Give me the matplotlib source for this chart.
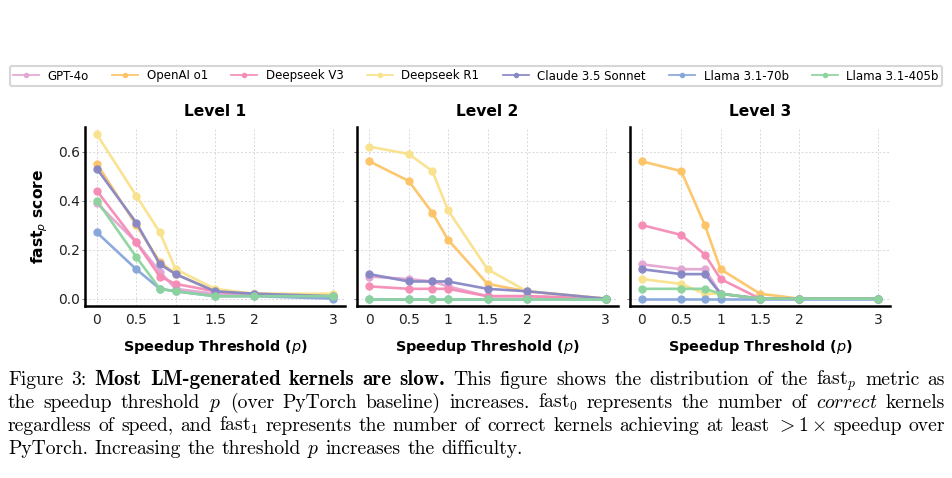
import matplotlib
matplotlib.use("Agg")
import matplotlib.pyplot as plt

# thresholds p
thresholds = [0, 0.5, 0.8, 1, 1.5, 2, 3]
xticks = [0, 0.5, 1, 1.5, 2, 3]
xticklabels = ["0", "0.5", "1", "1.5", "2", "3"]

models = ["GPT-4o", "OpenAI o1", "Deepseek V3", "Deepseek R1",
          "Claude 3.5 Sonnet", "Llama 3.1-70b", "Llama 3.1-405b"]
colors = ["#e3a6d2", "#fdc467", "#f58cb6", "#f9e28c",
          "#8787c6", "#86a6da", "#8cd49e"]

level1 = {
    "GPT-4o":            [0.39, 0.23, 0.11, 0.04, 0.02, 0.02, 0.01],
    "OpenAI o1":         [0.55, 0.30, 0.15, 0.10, 0.03, 0.02, 0.015],
    "Deepseek V3":       [0.44, 0.23, 0.09, 0.06, 0.03, 0.02, 0.01],
    "Deepseek R1":       [0.67, 0.42, 0.27, 0.12, 0.04, 0.02, 0.02],
    "Claude 3.5 Sonnet": [0.53, 0.31, 0.14, 0.10, 0.03, 0.02, 0.01],
    "Llama 3.1-70b":     [0.27, 0.12, 0.04, 0.03, 0.01, 0.01, 0.00],
    "Llama 3.1-405b":    [0.40, 0.17, 0.04, 0.03, 0.01, 0.01, 0.01],
}
level2 = {
    "GPT-4o":            [0.09, 0.08, 0.07, 0.05, 0.01, 0.01, 0.00],
    "OpenAI o1":         [0.56, 0.48, 0.35, 0.24, 0.06, 0.03, 0.00],
    "Deepseek V3":       [0.05, 0.04, 0.04, 0.04, 0.01, 0.01, 0.00],
    "Deepseek R1":       [0.62, 0.59, 0.52, 0.36, 0.12, 0.03, 0.00],
    "Claude 3.5 Sonnet": [0.10, 0.07, 0.07, 0.07, 0.04, 0.03, 0.00],
    "Llama 3.1-70b":     [0.00, 0.00, 0.00, 0.00, 0.00, 0.00, 0.00],
    "Llama 3.1-405b":    [0.00, 0.00, 0.00, 0.00, 0.00, 0.00, 0.00],
}
level3 = {
    "GPT-4o":            [0.14, 0.12, 0.12, 0.02, 0.00, 0.00, 0.00],
    "OpenAI o1":         [0.56, 0.52, 0.30, 0.12, 0.02, 0.00, 0.00],
    "Deepseek V3":       [0.30, 0.26, 0.18, 0.08, 0.00, 0.00, 0.00],
    "Deepseek R1":       [0.08, 0.06, 0.02, 0.02, 0.00, 0.00, 0.00],
    "Claude 3.5 Sonnet": [0.12, 0.10, 0.10, 0.02, 0.00, 0.00, 0.00],
    "Llama 3.1-70b":     [0.00, 0.00, 0.00, 0.00, 0.00, 0.00, 0.00],
    "Llama 3.1-405b":    [0.04, 0.04, 0.04, 0.02, 0.00, 0.00, 0.00],
}
levels = [("Level 1", level1), ("Level 2", level2), ("Level 3", level3)]

W, H = 953, 478
fig = plt.figure(figsize=(W / 100, H / 100), dpi=100)
plt.rcParams["mathtext.fontset"] = "dejavusans"

ax_left = [85, 357.5, 630]
ax_w = 260
ax_top, ax_bot = 127, 306

axes = []
for i, (title, data) in enumerate(levels):
    ax = fig.add_axes([ax_left[i] / W, 1 - ax_bot / H, ax_w / W, (ax_bot - ax_top) / H])
    axes.append(ax)
    for m, c in zip(models, colors):
        ax.plot(thresholds, data[m], color=c, lw=1.9, marker="o", ms=5,
                alpha=0.95, label=m)
    ax.set_xlim(-0.15, 3.15)
    ax.set_ylim(-0.03, 0.70)
    ax.set_xticks(xticks)
    ax.set_xticklabels(xticklabels)
    ax.set_yticks([0, 0.2, 0.4, 0.6])
    ax.grid(True, ls=(0, (2, 2)), color="#d8d8d8", lw=0.7)
    ax.set_axisbelow(True)
    for s in ["top", "right"]:
        ax.spines[s].set_visible(False)
    for s in ["left", "bottom"]:
        ax.spines[s].set_linewidth(1.8)
        ax.spines[s].set_color("black")
    ax.tick_params(axis="both", labelsize=10, length=2, width=0.6,
                   color="#666666", labelcolor="#222222", pad=1.5)
    ax.tick_params(axis="x", length=0, pad=5)
    ax.set_title(title, fontsize=11.2, fontweight="bold", pad=8)
    ax.set_xlabel("Speedup Threshold ($p$)", fontsize=10.4, fontweight="bold", labelpad=8)
    if i == 0:
        ax.set_yticklabels(["0.0", "0.2", "0.4", "0.6"])
        ax.set_ylabel("fast$_p$ score", fontsize=11.2, fontweight="bold", labelpad=6)
    else:
        ax.set_yticklabels([])

handles, labels = axes[0].get_legend_handles_labels()
leg = fig.legend(handles, labels, loc="center", ncol=7,
                 bbox_to_anchor=(476 / W, 1 - 76 / H), fontsize=8.5,
                 handlelength=2.2, columnspacing=2.0, handletextpad=0.7,
                 frameon=True, fancybox=True, borderpad=0.3, markerscale=0.6)
leg.get_frame().set_edgecolor("#cccccc")
leg.get_frame().set_linewidth(1.5)
for lh in leg.get_lines():
    lh.set_linewidth(1.3)

# caption, set like LaTeX text (justified)
FS = 14.1
reg = dict(family="cmr10", fontsize=FS)
bold = dict(family="cmb10", fontsize=FS * 1.07)
plt.rcParams["mathtext.fontset"] = "cm"

caption = [
    ([("Figure 3:", reg), ("Most LM-generated kernels are slow.", bold),
      ("This figure shows the distribution of the fast$_p$ metric as", reg)], True),
    ([("the speedup threshold $p$ (over PyTorch baseline) increases. fast$_0$ represents the number of", reg),
      ("$\\mathit{correct}$", reg), ("kernels", reg)], True),
    ([("regardless of speed, and fast$_1$ represents the number of correct kernels achieving at least $>1\\times$ speedup over", reg)], True),
    ([("PyTorch. Increasing the threshold $p$ increases the difficulty.", reg)], False),
]
baselines = [385, 408, 431, 454]
x0, x1 = 8, 945

renderer = fig.canvas.get_renderer()
for (segs, justify), yb in zip(caption, baselines):
    words = []
    for txt, kw in segs:
        for w in txt.split(" "):
            if w:
                words.append(fig.text(0, 1 - yb / H, w, va="baseline", **kw))
    widths = [t.get_window_extent(renderer).width for t in words]
    if justify:
        gap = (x1 - x0 - sum(widths)) / (len(words) - 1)
    else:
        gap = FS * 100 / 72 * 0.333
    x = x0
    for t, w in zip(words, widths):
        t.set_x(x / W)
        x += w + gap

fig.savefig("out.png", dpi=100)
